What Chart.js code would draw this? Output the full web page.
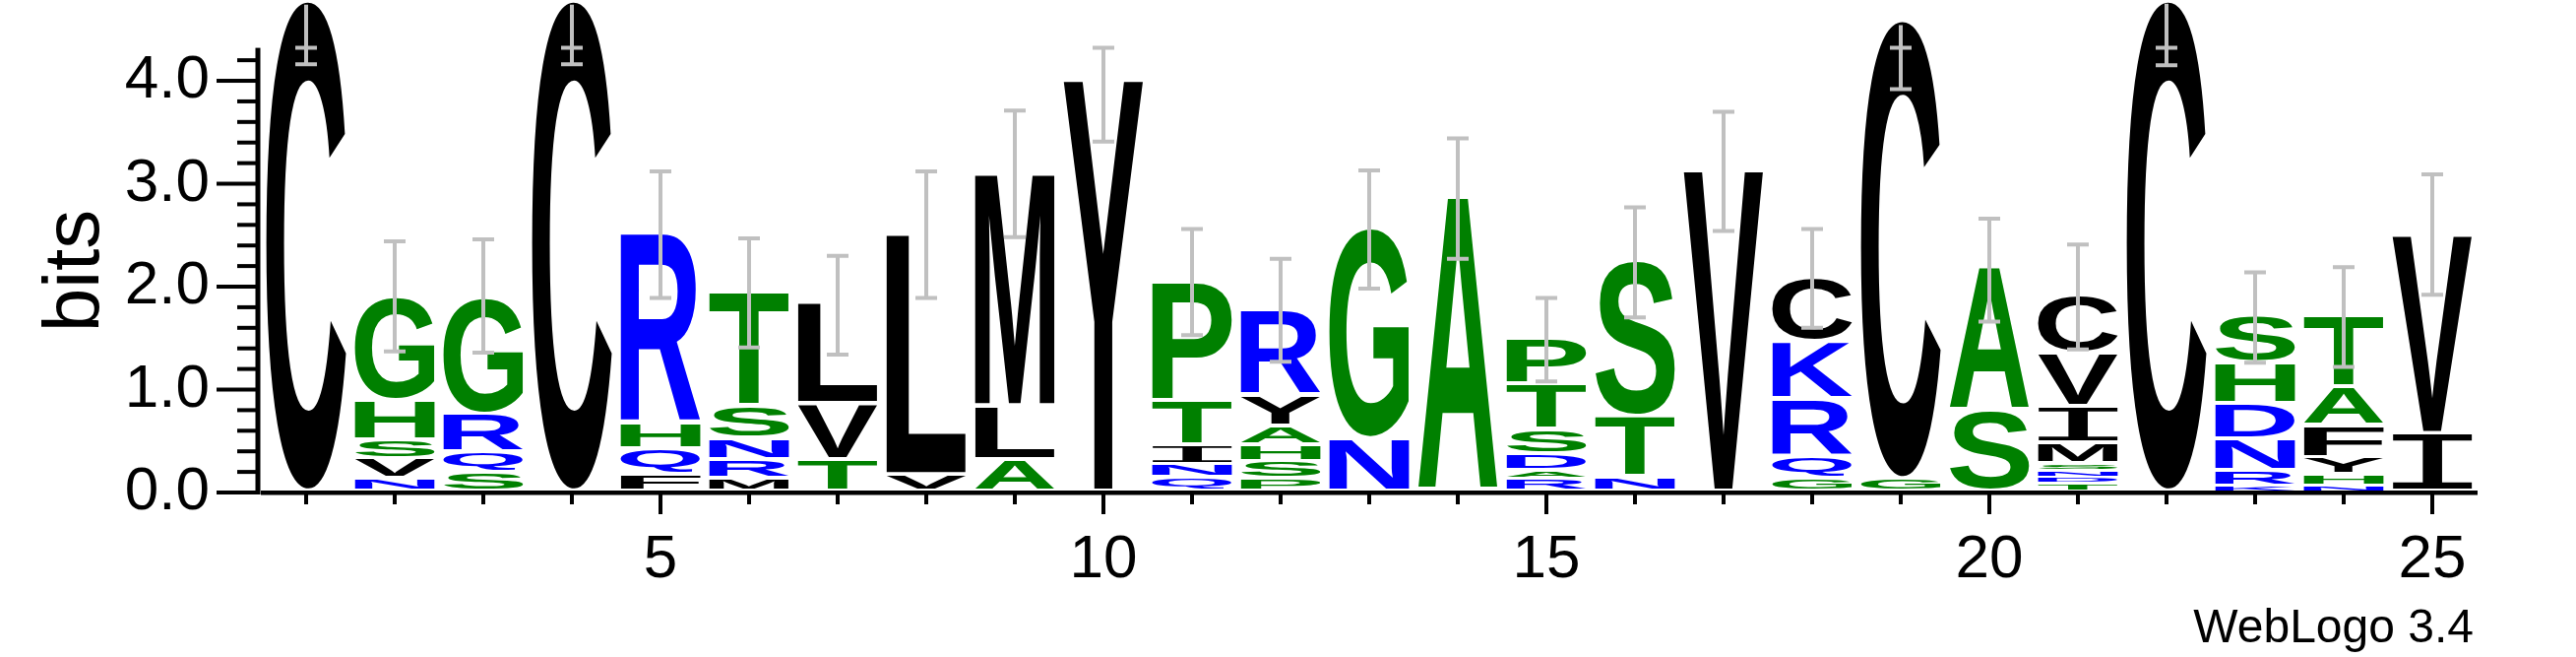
<!DOCTYPE html>
<html>
<head>
<meta charset="utf-8">
<script src="https://cdn.jsdelivr.net/npm/chart.js@4.4.1/dist/chart.umd.min.js"></script>
<style>
  html, body { margin: 0; padding: 0; background: #fff; }
  canvas { display: block; }
</style>
</head>
<body>
<canvas id="logo" width="2617" height="667"></canvas>
<script>
// sequence positions (x axis)
const positions = ['1', '2', '3', '4', '5', '6', '7', '8', '9', '10', '11', '12', '13',
  '14', '15', '16', '17', '18', '19', '20', '21', '22', '23', '24', '25'];
const xTickLabels = ['5', '10', '15', '20', '25'];
const yTickValues = [0, 1, 2, 3, 4];
const maxBits = 4.32; // log2(20), top of the y axis line

// letters of each column, bottom to top
const stackLetters = ['C', 'NVSHG', 'SQRG', 'C', 'FQHR', 'MRNST', 'TVL', 'VL', 'ALM', 'Y',
  'QNITP', 'PSHAYR', 'NG', 'A', 'RADSTP', 'NTS', 'V', 'GQRKC', 'GC', 'SA',
  'TDNSMIVC', 'C', 'KRNDHS', 'NHYFAT', 'IV'];

// height in bits of each letter, same order
const stackBits = [
  [4.77],
  [0.12, 0.19, 0.19, 0.38, 1.01],
  [0.19, 0.19, 0.37, 1.14],
  [4.77],
  [0.16, 0.25, 0.25, 1.85],
  [0.12, 0.19, 0.20, 0.32, 1.11],
  [0.31, 0.54, 0.98],
  [0.16, 2.34],
  [0.31, 0.52, 2.27],
  [4.00],
  [0.13, 0.13, 0.19, 0.43, 1.16],
  [0.12, 0.17, 0.16, 0.18, 0.30, 0.83],
  [0.51, 2.05],
  [2.86],
  [0.12, 0.08, 0.16, 0.24, 0.44, 0.45],
  [0.14, 0.59, 1.51],
  [3.12],
  [0.13, 0.21, 0.56, 0.56, 0.62],
  [0.12, 4.46],
  [0.78, 1.40],
  [0.08, 0.06, 0.06, 0.07, 0.20, 0.35, 0.52, 0.57],
  [4.77],
  [0.05, 0.15, 0.31, 0.34, 0.40, 0.47],
  [0.05, 0.11, 0.17, 0.31, 0.37, 0.69],
  [0.56, 1.93],
];

// error bars, lower and upper ends (bits)
const errLow = [4.16, 1.37, 1.36, 4.16, 1.89, 1.41, 1.34, 1.89, 2.48, 3.41, 1.53, 1.27, 1.98,
  2.27, 1.08, 1.70, 2.54, 1.60, 3.92, 1.66, 1.39, 4.15, 1.26, 1.22, 1.92];
const errHigh = [4.74, 2.44, 2.46, 4.74, 3.12, 2.47, 2.30, 3.12, 3.71, 4.32, 2.56, 2.27, 3.13,
  3.44, 1.89, 2.77, 3.70, 2.56, 4.54, 2.66, 2.41, 4.75, 2.14, 2.19, 3.09];

// colour groups
const blackLetters = 'CVLMYIFW';
const greenLetters = 'GHSTPA';
const blueLetters = 'NRQDKE';

function letterColor(ch) {
  if (greenLetters.includes(ch)) return '#008000';
  if (blueLetters.includes(ch)) return '#0000ff';
  return '#000000';
}

// draw one letter stretched to fill its box
function drawGlyph(ctx, ch, left, top, w, h, color) {
  if (h <= 0.5) return;
  ctx.save();
  ctx.font = ch === 'I'
    ? '200px "DejaVu Sans Mono", monospace'
    : 'bold 200px "Liberation Sans", Arial, sans-serif';
  ctx.textAlign = 'left';
  ctx.textBaseline = 'alphabetic';
  const m = ctx.measureText(ch);
  const gw = m.actualBoundingBoxLeft + m.actualBoundingBoxRight;
  const gh = m.actualBoundingBoxAscent + m.actualBoundingBoxDescent;
  ctx.translate(left, top);
  ctx.scale(w / gw, h / gh);
  ctx.fillStyle = color;
  ctx.fillText(ch, m.actualBoundingBoxLeft, m.actualBoundingBoxAscent);
  ctx.restore();
}

const nLayers = Math.max(...stackBits.map(s => s.length));
const datasets = [];
for (let k = 0; k < nLayers; k++) {
  datasets.push({
    label: 'layer ' + (k + 1),
    data: stackBits.map(s => s[k] || 0),
    backgroundColor: 'rgba(0,0,0,0)',
    borderWidth: 0,
    barPercentage: 0.9,
    categoryPercentage: 1.0,
  });
}

const logoPlugin = {
  id: 'logo',
  afterDatasetsDraw(chart) {
    const ctx = chart.ctx;
    const xs = chart.scales.x;
    const ys = chart.scales.y;

    // letters
    chart.data.datasets.forEach((ds, k) => {
      const meta = chart.getDatasetMeta(k);
      meta.data.forEach((bar, i) => {
        const ch = stackLetters[i][k];
        if (!ch) return;
        const p = bar.getProps(['x', 'y', 'base', 'width'], true);
        const h = p.base - p.y;
        const gap = Math.min(4, h * 0.4);
        drawGlyph(ctx, ch, p.x - p.width / 2, p.y, p.width, h - gap, letterColor(ch));
      });
    });

    // error bars
    ctx.save();
    ctx.strokeStyle = '#c0c0c0';
    ctx.lineWidth = 4;
    positions.forEach((pos, i) => {
      const cx = xs.getPixelForValue(i);
      const yl = ys.getPixelForValue(errLow[i]);
      const yh = ys.getPixelForValue(errHigh[i]);
      const yc = ys.getPixelForValue(Math.min(errHigh[i], maxBits));
      ctx.beginPath();
      ctx.moveTo(cx, yl);
      ctx.lineTo(cx, yh);
      ctx.moveTo(cx - 11, yl);
      ctx.lineTo(cx + 11, yl);
      ctx.moveTo(cx - 11, yc);
      ctx.lineTo(cx + 11, yc);
      ctx.stroke();
    });
    ctx.restore();
  },
  afterDraw(chart) {
    const ctx = chart.ctx;
    const xs = chart.scales.x;
    const ys = chart.scales.y;
    const area = chart.chartArea;
    const y0 = ys.getPixelForValue(0);
    ctx.save();
    ctx.fillStyle = '#000';

    // y axis line and ticks
    const ax = area.left - 4;
    ctx.fillRect(ax - 2.5, ys.getPixelForValue(maxBits), 5, y0 - ys.getPixelForValue(maxBits) + 2);
    for (let t = 0; t <= 21; t++) {
      const v = t / 5;
      const py = ys.getPixelForValue(v);
      const len = (t % 5 === 0) ? 42 : 21;
      ctx.fillRect(ax - len, py - 2, len, 4);
    }

    // x axis line and ticks
    ctx.fillRect(area.left - 1, y0 - 2, area.right - area.left + 2, 4.5);
    positions.forEach((pos, i) => {
      const px = xs.getPixelForValue(i);
      const len = xTickLabels.includes(pos) ? 20 : 10;
      ctx.fillRect(px - 2, y0, 4, len + 2);
    });

    // y title
    ctx.save();
    ctx.translate(70, 275);
    ctx.rotate(-Math.PI / 2);
    ctx.font = '80px "Liberation Sans", Arial, sans-serif';
    ctx.textAlign = 'center';
    ctx.textBaseline = 'alphabetic';
    ctx.fillText('bits', 0, 30);
    ctx.restore();

    // credit
    ctx.font = '48px "Liberation Sans", Arial, sans-serif';
    ctx.textAlign = 'right';
    ctx.textBaseline = 'alphabetic';
    ctx.fillText('WebLogo 3.4', area.right - 3, 652);
    ctx.restore();
  }
};

new Chart(document.getElementById('logo'), {
  type: 'bar',
  data: { labels: positions, datasets: datasets },
  options: {
    responsive: false,
    devicePixelRatio: 1,
    animation: false,
    layout: { padding: { left: 0, right: 101, top: 0, bottom: 0 } },
    plugins: {
      legend: { display: false },
      tooltip: { enabled: false },
    },
    scales: {
      x: {
        stacked: true,
        grid: { display: false, drawTicks: false },
        border: { display: false },
        ticks: {
          autoSkip: false,
          maxRotation: 0,
          padding: 38,
          color: '#000',
          font: { family: '"Liberation Sans", Arial, sans-serif', size: 62, lineHeight: 1 },
          callback: (val, idx) => xTickLabels.includes(positions[idx]) ? positions[idx] : '',
        },
        afterFit: (scale) => {
          scale.height = 167;
          scale.paddingLeft = 0;
          scale.paddingRight = 0;
        },
      },
      y: {
        stacked: true,
        min: 0,
        max: 4.785,
        grid: { display: false, drawTicks: false },
        border: { display: false },
        afterBuildTicks: (scale) => { scale.ticks = yTickValues.map(v => ({ value: v })); },
        ticks: {
          padding: 53,
          color: '#000',
          font: { family: '"Liberation Sans", Arial, sans-serif', size: 62, lineHeight: 1 },
          callback: (v) => Number(v).toFixed(1),
        },
        afterFit: (scale) => {
          scale.width = 266;
          scale.paddingTop = 0;
          scale.paddingBottom = 0;
        },
      },
    },
  },
  plugins: [logoPlugin],
});
</script>
</body>
</html>
